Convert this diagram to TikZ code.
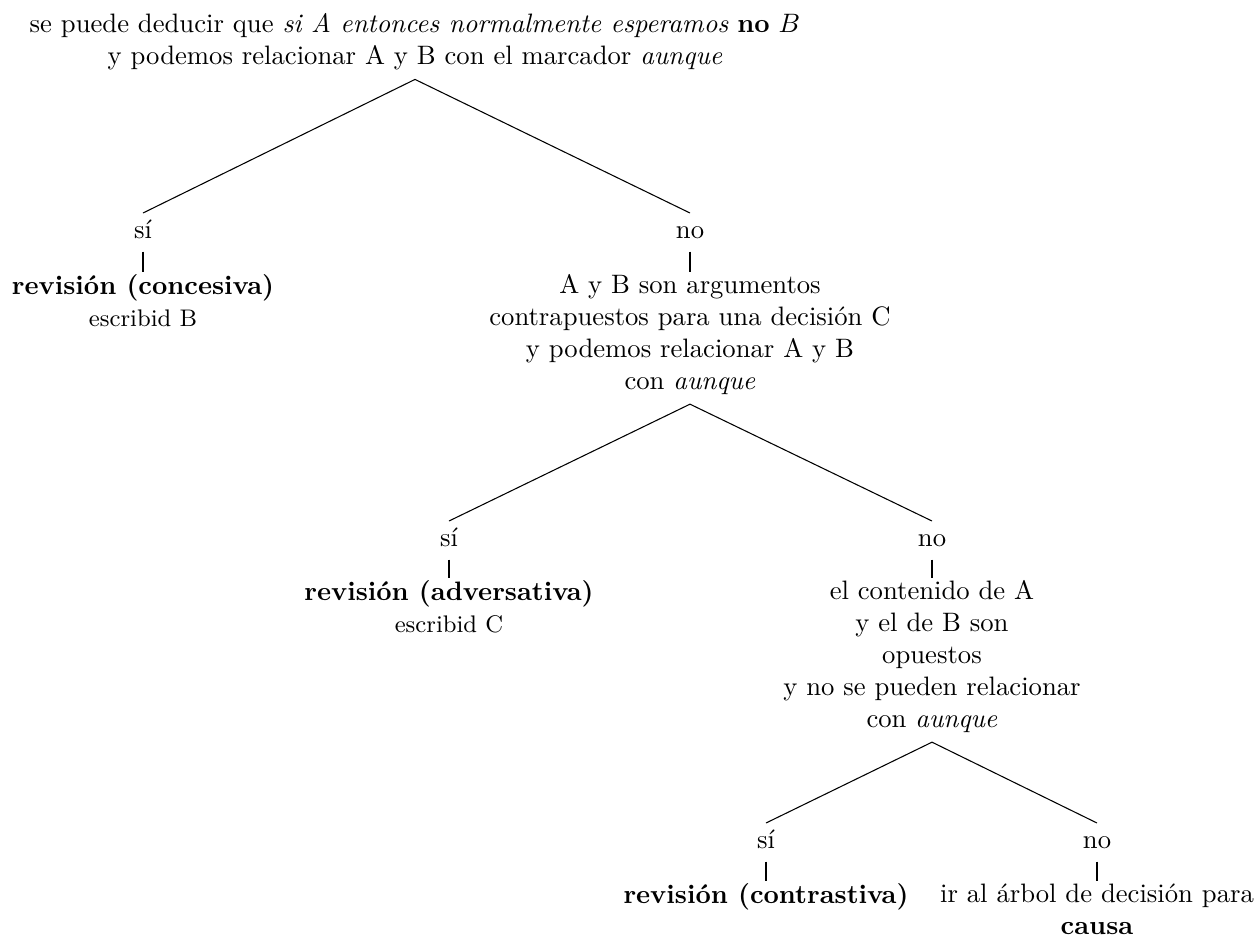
\documentclass[tikz,border=0pt]{standalone}
\usepackage{fontspec}
\usepackage{amsmath}
\newcommand{\lowdp}{\rule[-4.6pt]{0pt}{0pt}}

\begin{document}
\begin{tikzpicture}[x=0.375pt,y=0.375pt,yscale=-1,xscale=1,
  txt/.style={anchor=north,align=center,inner ysep=0.7pt},
  ans/.style={anchor=north,text height=5.9pt,text depth=1.5pt}]
\useasboundingbox (0,0) rectangle (1258,938);

% Text Node
\node [anchor=north,align=center] (root) at (415,4) {se puede deducir que \textit{si A entonces normalmente esperamos} \textbf{no} $B$\\ y podemos relacionar A y B con el marcador \textit{aunque}};
% Text Node
\node [ans] (si1) at (143,213) {sí};
% Text Node
\node [ans] (no1) at (690,213) {no};
% Text Node
\node [txt] (conc) at (143,272) {\textbf{revisión (concesiva)}\\ \small escribid B};
% Text Node
\node [txt] (arg) at (690,272) {A y B son argumentos\\ contrapuestos para una decisión C\\ y podemos relacionar A y B\\ con \textit{aunque}\lowdp};
% Text Node
\node [ans] (si2) at (449,521) {sí};
% Text Node
\node [ans] (no2) at (932,521) {no};
% Text Node
\node [txt] (adv) at (449,578) {\textbf{revisión (adversativa)}\\ \small escribid C};
% Text Node
\node [txt] (opp) at (932,578) {el contenido de A\\ y el de B son\\ opuestos\\ y no se pueden relacionar\\ con \textit{aunque}\lowdp};
% Text Node
\node [ans] (si3) at (766,823) {sí};
% Text Node
\node [ans] (no3) at (1097,823) {no};
% Text Node
\node [txt] (contr) at (766,881) {\textbf{revisión (contrastiva)}};
% Text Node
\node [txt] (causa) at (1097,881) {ir al árbol de decisión para\\ \textbf{causa}};

%Straight Lines
\draw (root.south) -- (si1.north);
\draw (root.south) -- (no1.north);
\draw (si1.south) -- (conc.north);
\draw (no1.south) -- (arg.north);
%Straight Lines
\draw (arg.south) -- (si2.north);
\draw (arg.south) -- (no2.north);
\draw (si2.south) -- (adv.north);
\draw (no2.south) -- (opp.north);
%Straight Lines
\draw (opp.south) -- (si3.north);
\draw (opp.south) -- (no3.north);
\draw (si3.south) -- (contr.north);
\draw (no3.south) -- (causa.north);

\end{tikzpicture}
\end{document}
